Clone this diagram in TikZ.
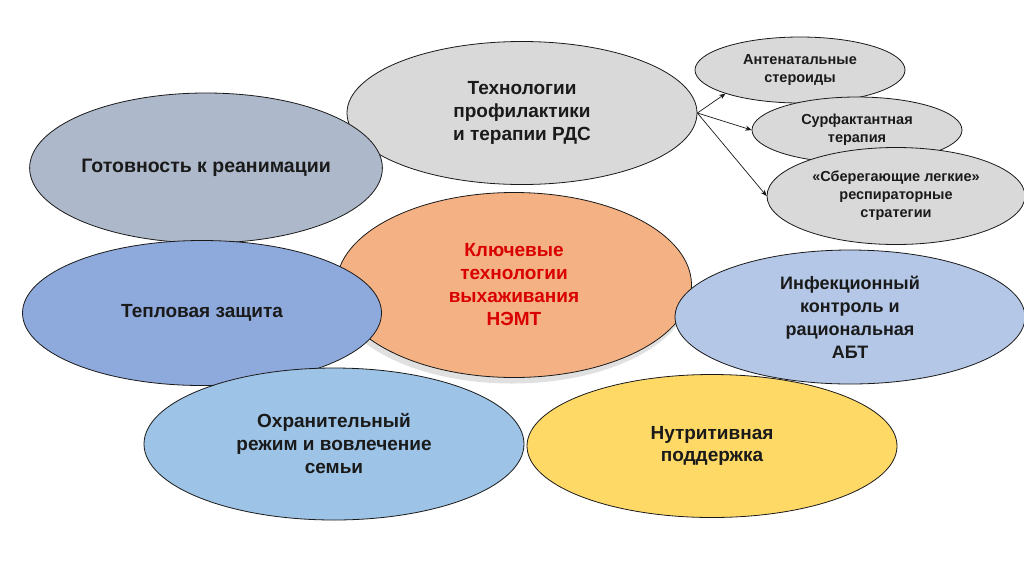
\documentclass[tikz,border=0pt]{standalone}
\usepackage{fontspec}
\setmainfont{Liberation Sans}
\usetikzlibrary{arrows.meta,shapes.geometric,shadows}
\definecolor{ink}{HTML}{1A1A1A}
\definecolor{coretext}{HTML}{D80000}
\definecolor{grayfill}{HTML}{D9D9D9}
\definecolor{slatefill}{HTML}{ADB9CA}
\definecolor{salmonfill}{HTML}{F4B183}
\definecolor{bluefill}{HTML}{8EA9DB}
\definecolor{paleblue}{HTML}{B4C7E7}
\definecolor{skyfill}{HTML}{9DC3E6}
\definecolor{yellowfill}{HTML}{FFD966}
\tikzset{
  oval/.style={ellipse, draw=ink, line width=0.8pt, inner sep=0pt, align=center, text=ink, font=\bfseries\fontsize{19}{23}\selectfont},
  smalloval/.style={oval, fill=grayfill, font=\bfseries\fontsize{14.5}{18}\selectfont},
  arrow/.style={-{Stealth[length=2.2mm, width=1.8mm]}, line width=0.7pt, draw=ink}
}

\begin{document}
\begin{tikzpicture}[x=1pt, y=-1pt]
  \fill[white] (0,0) rectangle (1024,574);
  \useasboundingbox (0,0) rectangle (1024,574);

  \node[oval, fill=grayfill, minimum width=350pt, minimum height=143pt] (rds) at (522,113) {Технологии\\профилактики\\и терапии РДС};
  \node[oval, fill=slatefill, minimum width=352pt, minimum height=150pt, font=\bfseries\fontsize{19.5}{23}\selectfont] (reanim) at (206,168) {Готовность к реанимации};
  \node[oval, fill=salmonfill, minimum width=355pt, minimum height=185pt, text=coretext,
        drop shadow={shadow xshift=-2pt, shadow yshift=-6pt, fill=black, opacity=0.12}] (core) at (514,285) {Ключевые\\технологии\\выхаживания\\НЭМТ};
  \node[oval, fill=bluefill, minimum width=359pt, minimum height=145pt] (heat) at (202,313) {Тепловая защита};
  \node[oval, fill=paleblue, minimum width=350pt, minimum height=134pt, font=\bfseries\fontsize{18}{23}\selectfont] (infect) at (850,317) {Инфекционный\\контроль и\\рациональная\\АБТ};
  \node[oval, fill=skyfill, minimum width=380pt, minimum height=152pt] (family) at (334,444) {Охранительный\\режим и вовлечение\\семьи};
  \node[oval, fill=yellowfill, minimum width=370pt, minimum height=143pt, font=\bfseries\fontsize{19}{22}\selectfont] (nutri) at (712,446) {Нутритивная\\поддержка};

  \node[smalloval, minimum width=210pt, minimum height=66pt] (steroid) at (800,70) {Антенатальные\\стероиды};
  \node[smalloval, minimum width=210pt, minimum height=66pt] (surf) at (857,130) {Сурфактантная\\терапия};
  \node[smalloval, minimum width=258pt, minimum height=97pt] (lung) at (896,196) {«Сберегающие легкие»\\респираторные\\стратегии};

  \draw[arrow] (rds.east) -- (steroid.south west);
  \draw[arrow] (rds.east) -- (surf.west);
  \draw[arrow] (rds.east) -- (lung.west);
\end{tikzpicture}
\end{document}
